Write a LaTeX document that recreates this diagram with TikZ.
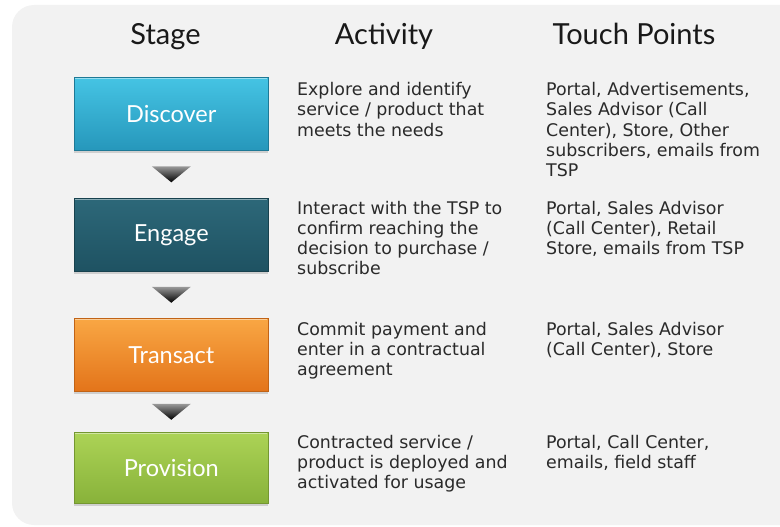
\documentclass[tikz,border=0pt]{standalone}
\usepackage{fontspec}
\setmainfont{DejaVu Sans}
\newfontfamily\hdfont{Lato}
\usetikzlibrary{calc,shadows}
\definecolor{bgc}{HTML}{F2F2F2}
\definecolor{txt}{HTML}{2A2A2A}
\definecolor{dtop}{HTML}{45C4E4}
\definecolor{dbot}{HTML}{2697BB}
\definecolor{etop}{HTML}{2D6879}
\definecolor{ebot}{HTML}{1E5262}
\definecolor{ttop}{HTML}{F9A744}
\definecolor{tbot}{HTML}{E3741A}
\definecolor{ptop}{HTML}{ACD356}
\definecolor{pbot}{HTML}{88B23A}
\newcommand\bodylines[1]{\vtop{\halign{##\hfil\cr#1\crcr}}}
\tikzset{
  stagebox/.style={anchor=north west, minimum width=194pt, minimum height=73pt,
    inner sep=0pt, text=white, font=\hdfont\fontsize{23.5}{28}\selectfont,
    line width=0.6pt,
    drop shadow={shadow xshift=0pt, shadow yshift=-2.5pt, opacity=0.3}},
  header/.style={anchor=base, text=black!90, font=\hdfont\fontsize{29}{34}\selectfont, inner sep=0pt},
  body/.style={anchor=base west, text=txt, inner sep=0pt,
    font=\fontsize{17.4}{20.3}\selectfont},
  downtri/.style={top color=black!40, middle color=black!95, bottom color=black, draw=none}
}
\begin{document}
\begin{tikzpicture}[x=1pt,y=-1pt]
\useasboundingbox (0,0) rectangle (780,527);
\fill[bgc, rounded corners=22pt] (12,5) rectangle (820,525);

\node[header] (h1) at (165.5,44.5) {Stage};
\node[header] (h2) at (384,44.5) {Activity};
\node[header] (h3) at (634,44.5) {Touch Points};

\node[stagebox, top color=dtop, bottom color=dbot, draw=dbot!80!black] (d) at (74,77) {Discover};
\node[stagebox, top color=etop, bottom color=ebot, draw=ebot!80!black] (e) at (74,198) {Engage};
\node[stagebox, top color=ttop, bottom color=tbot, draw=tbot!85!black] (t) at (74,318) {Transact};
\node[stagebox, minimum height=71pt, top color=ptop, bottom color=pbot, draw=pbot!85!black] (p) at (74,432) {Provision};

\foreach \n in {d,e,t,p}{
  \draw[white, opacity=0.45, line width=1pt] ($(\n.north west)+(1.2,1.2)$) -- ($(\n.north east)+(-1.2,1.2)$);
}

\foreach \a/\b in {d/e,e/t,t/p}{
  \coordinate (m\a) at ($(\a.south)!0.5!(\b.north)$);
  \shade[downtri] ($(m\a)+(-19.5,-8)$) -- ($(m\a)+(19.5,-8)$) -- ($(m\a)+(0,8)$) -- cycle;
}

\node[body] (a1) at (297,95.5) {\bodylines{Explore and identify\cr service / product that\cr meets the needs}};
\node[body] (c1) at (546,95.5) {\bodylines{Portal, Advertisements,\cr Sales Advisor (Call\cr Center), Store, Other\cr subscribers, emails from\cr TSP}};

\node[body] (a2) at (297,214) {\bodylines{Interact with the TSP to\cr confirm reaching the\cr decision to purchase /\cr subscribe}};
\node[body] (c2) at (546,214) {\bodylines{Portal, Sales Advisor\cr (Call Center), Retail\cr Store, emails from TSP}};

\node[body] (a3) at (297,335) {\bodylines{Commit payment and\cr enter in a contractual\cr agreement}};
\node[body] (c3) at (546,335) {\bodylines{Portal, Sales Advisor\cr (Call Center), Store}};

\node[body] (a4) at (297,448) {\bodylines{Contracted service /\cr product is deployed and\cr activated for usage}};
\node[body] (c4) at (546,448) {\bodylines{Portal, Call Center,\cr emails, field staff}};
\end{tikzpicture}
\end{document}
